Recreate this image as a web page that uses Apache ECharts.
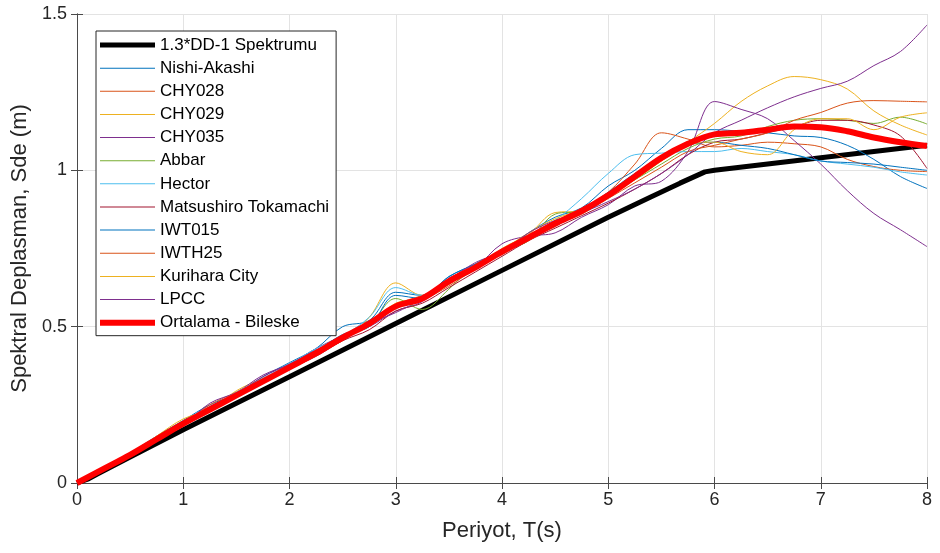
<!DOCTYPE html>
<html>
<head>
<meta charset="utf-8">
<script src="https://cdn.jsdelivr.net/npm/echarts@6/dist/echarts.min.js"></script>
<style>
  html, body { margin: 0; padding: 0; background: #fff; }
  #chart { width: 940px; height: 553px; }
</style>
</head>
<body>
<div id="chart"></div>
<script>
// Period grid (s) shared by the record spectra and their mean
const periods = [0, 0.25, 0.5, 0.75, 1, 1.25, 1.5, 1.75, 2, 2.25, 2.5, 2.75, 3, 3.25, 3.5, 3.75, 4,
  4.25, 4.5, 4.75, 5, 5.25, 5.5, 5.75, 6, 6.25, 6.5, 6.75, 7, 7.25, 7.5, 7.75, 8];

// Design spectrum (1.3 x DD-1), spectral displacement in m
const designT  = [0, 0.1, 0.2, 0.3, 0.5, 1, 2, 3, 4, 5, 5.4, 5.675, 5.91, 6, 7, 8];
const designSd = [0, 0.012, 0.03, 0.048, 0.083, 0.17, 0.34, 0.51, 0.68, 0.85, 0.915, 0.959, 0.995, 1.0, 1.04, 1.08];

// Scaled record spectra, Sde (m)
const nishiAkashi = [0, .045, .095, .15, .2, .25, .285, .34, .385, .43, .5, .52, .61, .6, .66, .7, .735, .8, .85, .88, .95, 1.0, 1.07, 1.13, 1.13, 1.125, 1.12, 1.11, 1.105, 1.08, 1.035, .98, .942];
const chy028 = [0, .04, .088, .14, .19, .25, .29, .33, .38, .425, .46, .505, .57, .6, .635, .7, .73, .785, .82, .875, .93, 1.02, 1.12, 1.10, 1.075, 1.08, 1.09, 1.085, 1.075, 1.035, 1.012, 1.0, .996];
const chy029 = [0, .045, .09, .15, .205, .235, .295, .335, .37, .42, .455, .53, .64, .6, .64, .685, .75, .795, .865, .87, .915, .97, 1.03, 1.09, 1.15, 1.22, 1.27, 1.30, 1.29, 1.26, 1.19, 1.145, 1.113];
const chy035 = [0, .04, .092, .135, .185, .255, .29, .345, .38, .43, .47, .5, .55, .58, .655, .69, .765, .79, .80, .85, .89, .95, .965, 1.06, 1.22, 1.195, 1.165, 1.095, 1.02, .935, .862, .81, .756];
const abbar = [0, .045, .09, .14, .195, .235, .28, .33, .375, .41, .47, .505, .59, .555, .62, .7, .74, .775, .86, .87, .925, .97, 1.02, 1.07, 1.10, 1.11, 1.14, 1.16, 1.165, 1.16, 1.15, 1.17, 1.148];
const hector = [0, .045, .095, .145, .195, .24, .29, .335, .38, .43, .47, .53, .625, .6, .65, .7, .745, .79, .84, .91, .99, 1.05, 1.055, 1.06, 1.06, 1.07, 1.06, 1.05, 1.03, 1.02, 1.01, .995, .985];
const matsushiro = [0, .04, .085, .135, .185, .23, .275, .32, .365, .405, .455, .49, .55, .575, .625, .675, .725, .775, .815, .855, .895, .94, .99, 1.05, 1.09, 1.1, 1.12, 1.14, 1.16, 1.16, 1.145, 1.11, 1.006];
const iwt015 = [0, .045, .09, .14, .19, .24, .28, .33, .375, .42, .475, .5, .6, .59, .66, .70, .74, .78, .835, .875, .93, .99, 1.04, 1.08, 1.09, 1.08, 1.07, 1.05, 1.03, 1.025, 1.02, 1.01, 1.0];
const iwth25 = [0, .045, .09, .14, .19, .235, .285, .325, .37, .415, .465, .515, .56, .585, .63, .685, .735, .775, .825, .86, .91, .96, 1.01, 1.06, 1.08, 1.10, 1.12, 1.16, 1.185, 1.215, 1.223, 1.221, 1.219];
const kurihara = [0, .045, .09, .14, .19, .24, .28, .325, .375, .415, .465, .51, .575, .59, .64, .695, .745, .8, .845, .875, .92, .97, 1.03, 1.08, 1.09, 1.06, 1.05, 1.13, 1.165, 1.165, 1.13, 1.17, 1.184];
const lpcc = [0, .04, .09, .14, .19, .245, .285, .34, .38, .425, .465, .51, .545, .59, .65, .705, .74, .8, .84, .865, .90, .94, .99, 1.05, 1.12, 1.16, 1.2, 1.235, 1.262, 1.285, 1.335, 1.38, 1.465];

// Mean of the scaled records
const meanSd = [0, .045, .09, .14, .19, .235, .28, .325, .37, .415, .465, .51, .565, .59, .645, .69, .74, .785, .83, .87, .92, .98, 1.04, 1.085, 1.115, 1.12, 1.13, 1.14, 1.138, 1.125, 1.105, 1.09, 1.078];

const records = [
  ['Nishi-Akashi', nishiAkashi, '#0072BD'],
  ['CHY028', chy028, '#D95319'],
  ['CHY029', chy029, '#EDB120'],
  ['CHY035', chy035, '#7E2F8E'],
  ['Abbar', abbar, '#77AC30'],
  ['Hector', hector, '#4DBEEE'],
  ['Matsushiro Tokamachi', matsushiro, '#A2142F'],
  ['IWT015', iwt015, '#0072BD'],
  ['IWTH25', iwth25, '#D95319'],
  ['Kurihara City', kurihara, '#EDB120'],
  ['LPCC', lpcc, '#7E2F8E']
];

const zip = (xs, ys) => xs.map((x, i) => [x, ys[i]]);

const FONT = '"Liberation Sans", Arial, sans-serif';
const AXIS_COLOR = '#4a4a4a';
const TEXT_COLOR = '#262626';
const GRID_COLOR = '#e3e3e3';

// Legend key: a horizontal bar of the given thickness, centred in a 55 x 18 box
const KEY_W = 55, KEY_H = 18;
function lineKey(thickness) {
  const y0 = (KEY_H - thickness) / 2;
  return 'path://M0,0 M' + KEY_W + ',' + KEY_H +
    ' M0,' + y0 + ' H' + KEY_W + ' V' + (y0 + thickness) + ' H0 Z';
}

const series = [];
const legendData = [];
series.push({
  name: '1.3*DD-1 Spektrumu',
  type: 'line',
  data: zip(designT, designSd),
  symbol: 'none',
  lineStyle: { color: '#000', width: 5 },
  itemStyle: { color: '#000' },
  z: 2
});
legendData.push({ name: '1.3*DD-1 Spektrumu', icon: lineKey(5) });
records.forEach(([name, values, color]) => {
  series.push({
    name,
    type: 'line',
    data: zip(periods, values),
    symbol: 'none',
    smooth: 0.35,
    lineStyle: { color, width: 1 },
    itemStyle: { color },
    z: 3
  });
  legendData.push({ name, icon: lineKey(1) });
});
series.push({
  name: 'Ortalama - Bileske',
  type: 'line',
  data: zip(periods, meanSd),
  symbol: 'none',
  smooth: 0.35,
  lineStyle: { color: '#FF0000', width: 6 },
  itemStyle: { color: '#FF0000' },
  z: 4
});
legendData.push({ name: 'Ortalama - Bileske', icon: lineKey(6) });

const chart = echarts.init(document.getElementById('chart'), null, { renderer: 'canvas' });
chart.setOption({
  animation: false,
  backgroundColor: '#fff',
  grid: { left: 77, right: 13, top: 14, bottom: 70 },
  legend: {
    orient: 'vertical',
    left: 96,
    top: 31,
    padding: [5, 7, 4, 4],
    itemWidth: KEY_W,
    itemHeight: KEY_H,
    itemGap: 5.14,
    symbolKeepAspect: false,
    backgroundColor: '#fff',
    borderColor: '#262626',
    borderWidth: 1,
    textStyle: { fontFamily: FONT, fontSize: 17, color: '#000', lineHeight: 18 },
    data: legendData
  },
  xAxis: [
    {
      type: 'value', min: 0, max: 8, interval: 1,
      name: 'Periyot, T(s)', nameLocation: 'middle', nameGap: 37,
      nameTextStyle: { fontFamily: FONT, fontSize: 22, color: TEXT_COLOR },
      axisLine: { show: true, lineStyle: { color: AXIS_COLOR, width: 1 } },
      axisTick: { show: true, inside: true, length: 6, lineStyle: { color: AXIS_COLOR } },
      axisLabel: { fontFamily: FONT, fontSize: 18, color: TEXT_COLOR, margin: 8 },
      splitLine: { show: true, lineStyle: { color: GRID_COLOR, width: 1 } }
    },
    {
      type: 'value', min: 0, max: 8, interval: 1, position: 'top',
      axisLine: { show: true, lineStyle: { color: AXIS_COLOR, width: 1 } },
      axisTick: { show: true, inside: true, length: 6, lineStyle: { color: AXIS_COLOR } },
      axisLabel: { show: false },
      splitLine: { show: false }
    }
  ],
  yAxis: [
    {
      type: 'value', min: 0, max: 1.5, interval: 0.5,
      name: 'Spektral Deplasman, Sde (m)', nameLocation: 'middle', nameGap: 36,
      nameTextStyle: { fontFamily: FONT, fontSize: 22, color: TEXT_COLOR },
      axisLine: { show: true, lineStyle: { color: AXIS_COLOR, width: 1 } },
      axisTick: { show: true, inside: true, length: 6, lineStyle: { color: AXIS_COLOR } },
      axisLabel: { fontFamily: FONT, fontSize: 18, color: TEXT_COLOR, margin: 10 },
      splitLine: { show: true, lineStyle: { color: GRID_COLOR, width: 1 } }
    },
    {
      type: 'value', min: 0, max: 1.5, interval: 0.5, position: 'right',
      axisLine: { show: true, lineStyle: { color: AXIS_COLOR, width: 1 } },
      axisTick: { show: true, inside: true, length: 6, lineStyle: { color: AXIS_COLOR } },
      axisLabel: { show: false },
      splitLine: { show: false }
    }
  ],
  series
});
</script>
</body>
</html>
